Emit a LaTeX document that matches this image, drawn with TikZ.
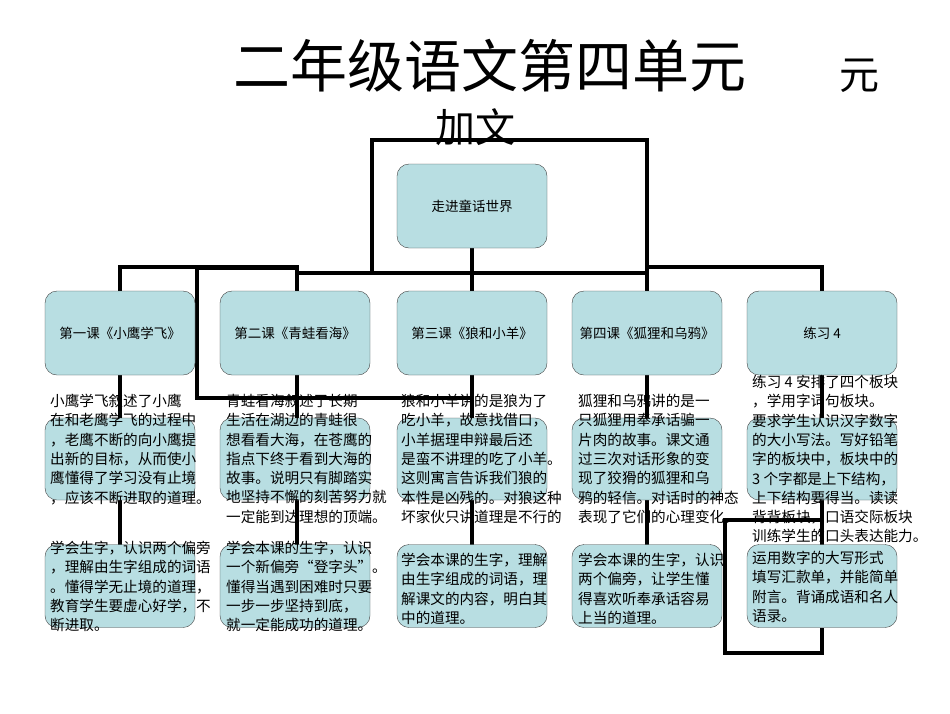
\documentclass[tikz,border=0pt]{standalone}
\usepackage{fontspec}
\setmainfont{Liberation Sans}
\newfontfamily\cjk{Noto Sans CJK SC}
\definecolor{boxfill}{RGB}{184,222,226}
\begin{document}
\begin{tikzpicture}[x=1pt,y=-1pt,
  bx/.style={draw=black!75,fill=boxfill,rounded corners=12pt,minimum width=150pt,minimum height=84pt,font=\cjk\fontsize{13.5}{15}\selectfont,inner sep=1pt},
  ln/.style={line width=3.4pt},
  txt/.style={anchor=north west,inner sep=0pt,align=left,font=\cjk\fontsize{14.6}{19.3}\selectfont}]
\useasboundingbox (0,0) rectangle (950,713);
% title
\node[font=\cjk\fontsize{57}{62}\selectfont,anchor=center] (t1) at (490,66) {二年级语文第四单元};
\node[font=\cjk\fontsize{40}{44}\selectfont] (t2) at (859,76) {元};
\node[font=\cjk\fontsize{40}{44}\selectfont] (t3) at (475,127) {加文};
% connectors first
\coordinate (ra) at (372,140); \coordinate (rb) at (647,140);
\coordinate (rc) at (372,273); \coordinate (rd) at (647,273);
\draw[ln] (rc) -- (ra) -- (rb) -- (rd);
\draw[ln] (120,291) -- (120,267) -- (297,267) -- (297,291);
\draw[ln] (297,273) -- (647,273);
\draw[ln] (647,267) -- (822,267) -- (822,291);
\draw[ln] (472,248) -- (472,291);
\draw[ln] (647,273) -- (647,291);
\draw[ln] (297,268) -- (197,268) -- (197,398) -- (472,398);
\foreach \x in {120,297,472,647} {\draw[ln] (\x,375) -- (\x,545);}
\draw[ln] (822,375) -- (822,545);
\draw[ln] (822,628) -- (822,653) -- (725,653) -- (725,520) -- (822,520);
% boxes
\node[bx] (top) at (472,206) {走进童话世界};
\node[bx] (b1) at (120,333) {第一课《小鹰学飞》};
\node[bx] (b2) at (295,333) {第二课《青蛙看海》};
\node[bx] (b3) at (472,333) {第三课《狼和小羊》};
\node[bx] (b4) at (647,333) {第四课《狐狸和乌鸦》};
\node[bx] (b5) at (822,333) {练习 4};
\foreach \n/\x in {c1/120,c2/295,c3/472,c4/647,c5/822} {\node[bx,minimum height=82pt] (\n) at (\x,459) {};}
\foreach \n/\x in {d1/120,d2/295,d3/472,d4/647,d5/822} {\node[bx,minimum height=83pt] (\n) at (\x,586) {};}
% texts
\node[txt] (p1) at (50,394) {小鹰学飞叙述了小鹰\\在和老鹰学飞的过程中\\，老鹰不断的向小鹰提\\出新的目标，从而使小\\鹰懂得了学习没有止境\\，应该不断进取的道理。};
\node[txt] (p2) at (226,394) {青蛙看海叙述了长期\\生活在湖边的青蛙很\\想看看大海，在苍鹰的\\指点下终于看到大海的\\故事。说明只有脚踏实\\地坚持不懈的刻苦努力就\\一定能到达理想的顶端。};
\node[txt] (p3) at (401,394) {狼和小羊讲的是狼为了\\吃小羊，故意找借口，\\小羊据理申辩最后还\\是蛮不讲理的吃了小羊。\\这则寓言告诉我们狼的\\本性是凶残的。对狼这种\\坏家伙只讲道理是不行的};
\node[txt] (p4) at (578,394) {狐狸和乌鸦讲的是一\\只狐狸用奉承话骗一\\片肉的故事。课文通\\过三次对话形象的变\\现了狡猾的狐狸和乌\\鸦的轻信。对话时的神态\\表现了它们的心理变化。};
\node[txt] (p5) at (752,375) {练习 4 安排了四个板块\\，学用字词句板块。\\要求学生认识汉字数字\\的大小写法。写好铅笔\\字的板块中，板块中的\\3 个字都是上下结构，\\上下结构要得当。读读\\背背板块，口语交际板块\\训练学生的口头表达能力。};
\node[txt] (q1) at (50,541) {学会生字，认识两个偏旁\\，理解由生字组成的词语\\。懂得学无止境的道理，\\教育学生要虚心好学，不\\断进取。};
\node[txt] (q2) at (226,541) {学会本课的生字，认识\\一个新偏旁“登字头”。\\懂得当遇到困难时只要\\一步一步坚持到底，\\就一定能成功的道理。};
\node[txt] (q3) at (401,553) {学会本课的生字，理解\\由生字组成的词语，理\\解课文的内容，明白其\\中的道理。};
\node[txt] (q4) at (578,553) {学会本课的生字，认识\\两个偏旁，让学生懂\\得喜欢听奉承话容易\\上当的道理。};
\node[txt] (q5) at (752,551) {运用数字的大写形式\\填写汇款单，并能简单\\附言。背诵成语和名人\\语录。};
\end{tikzpicture}
\end{document}
